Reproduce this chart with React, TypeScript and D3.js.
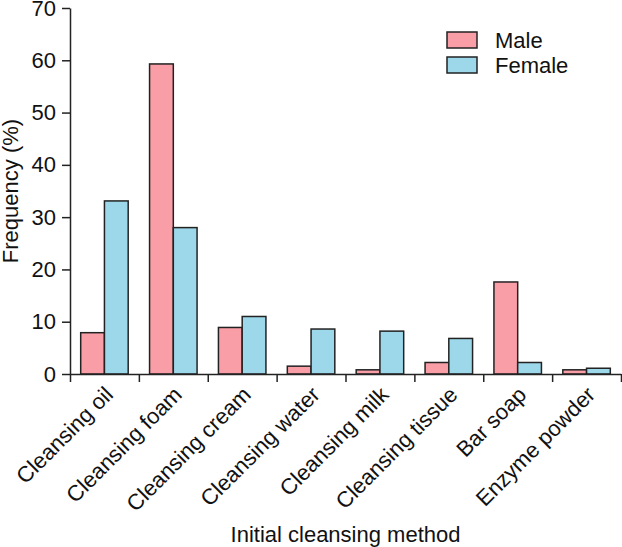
import React, { useEffect, useRef } from 'react';
import * as d3 from 'd3';

const categories = [
    'Cleansing oil',
    'Cleansing foam',
    'Cleansing cream',
    'Cleansing water',
    'Cleansing milk',
    'Cleansing tissue',
    'Bar soap',
    'Enzyme powder',
];
const series = ['Male', 'Female'];
const male = [7.9, 59.3, 8.9, 1.5, 0.8, 2.2, 17.6, 0.8];
const female = [33.1, 28.0, 11.0, 8.6, 8.2, 6.8, 2.2, 1.1];
const yTicks = [0, 10, 20, 30, 40, 50, 60, 70];
const colors = ['#f99ea7', '#9dd8ea'];

const W = 622;
const H = 547;
const margin = { left: 70, right: 1, top: 8, bottom: 173 };
const font = 'Liberation Sans, Arial, sans-serif';

const App: React.FC = () => {
    const svgRef = useRef<SVGSVGElement>(null);

    useEffect(() => {
        if (!svgRef.current) return;
        const svg = d3.select(svgRef.current);
        svg.selectAll('*').remove();

        const x0 = d3
            .scaleBand<string>()
            .domain(categories)
            .range([margin.left, W - margin.right])
            .padding(0);
        const x1 = d3
            .scaleBand<string>()
            .domain(series)
            .range([0, x0.bandwidth()])
            .paddingInner(0)
            .paddingOuter(0.45);
        const y = d3
            .scaleLinear()
            .domain([0, 70])
            .range([H - margin.bottom, margin.top]);

        const rows = categories.map((c, i) => ({ c, vals: [male[i], female[i]] }));

        // bars
        const g = svg.append('g');
        g.selectAll('g.grp')
            .data(rows)
            .join('g')
            .attr('transform', (d) => `translate(${x0(d.c)},0)`)
            .selectAll('rect')
            .data((d) => d.vals.map((v, k) => ({ s: series[k], v, k })))
            .join('rect')
            .attr('x', (d) => x1(d.s)!)
            .attr('width', x1.bandwidth())
            .attr('y', (d) => y(d.v))
            .attr('height', (d) => y(0) - y(d.v))
            .attr('fill', (d) => colors[d.k])
            .attr('stroke', '#222')
            .attr('stroke-width', 1.5);

        // y axis
        const ya = svg
            .append('g')
            .attr('transform', `translate(${margin.left},0)`)
            .call(d3.axisLeft(y).tickValues(yTicks).tickSize(8).tickSizeOuter(0).tickPadding(6));
        ya.selectAll('path,line').attr('stroke', '#222').attr('stroke-width', 1.5);
        ya.selectAll('text')
            .style('font-size', '22px')
            .style('font-family', font)
            .attr('fill', '#111');

        // x axis, ticks at category boundaries
        const xb = d3
            .scaleLinear()
            .domain([0, categories.length])
            .range([margin.left, W - margin.right]);
        const xa = svg
            .append('g')
            .attr('transform', `translate(0,${y(0)})`)
            .call(
                d3
                    .axisBottom(xb)
                    .tickValues(d3.range(categories.length + 1))
                    .tickFormat(() => '')
                    .tickSize(8)
                    .tickSizeOuter(0),
            );
        xa.selectAll('path,line').attr('stroke', '#222').attr('stroke-width', 1.5);

        // category labels
        svg.append('g')
            .selectAll('text')
            .data(categories)
            .join('text')
            .attr(
                'transform',
                (d) =>
                    `translate(${x0(d)! + x0.bandwidth() / 2 + 10},${y(0) + 22}) rotate(-45)`,
            )
            .attr('text-anchor', 'end')
            .style('font-size', '22px')
            .style('font-family', font)
            .attr('fill', '#111')
            .text((d) => d);

        // axis titles
        svg.append('text')
            .attr('x', (margin.left + W - margin.right) / 2)
            .attr('y', 542)
            .attr('text-anchor', 'middle')
            .style('font-size', '22px')
            .style('font-family', font)
            .attr('fill', '#111')
            .text('Initial cleansing method');

        svg.append('text')
            .attr('transform', `translate(18,${(y(0) + y(70)) / 2}) rotate(-90)`)
            .attr('text-anchor', 'middle')
            .style('font-size', '22px')
            .style('font-family', font)
            .attr('fill', '#111')
            .text('Frequency (%)');

        // legend
        const lg = svg.append('g').attr('transform', 'translate(447,32)');
        const item = lg
            .selectAll('g')
            .data(series)
            .join('g')
            .attr('transform', (_, i) => `translate(0,${i * 25})`);
        item.append('rect')
            .attr('width', 30)
            .attr('height', 16)
            .attr('fill', (_, i) => colors[i])
            .attr('stroke', '#222')
            .attr('stroke-width', 1.5);
        item.append('text')
            .attr('x', 48)
            .attr('y', 16)
            .style('font-size', '22px')
            .style('font-family', font)
            .attr('fill', '#111')
            .text((d) => d);
    }, []);

    return (
        <svg
            ref={svgRef}
            width={W}
            height={H}
            style={{ position: 'absolute', left: 0, top: 0, display: 'block', background: '#fff' }}
        />
    );
};

export default App;
